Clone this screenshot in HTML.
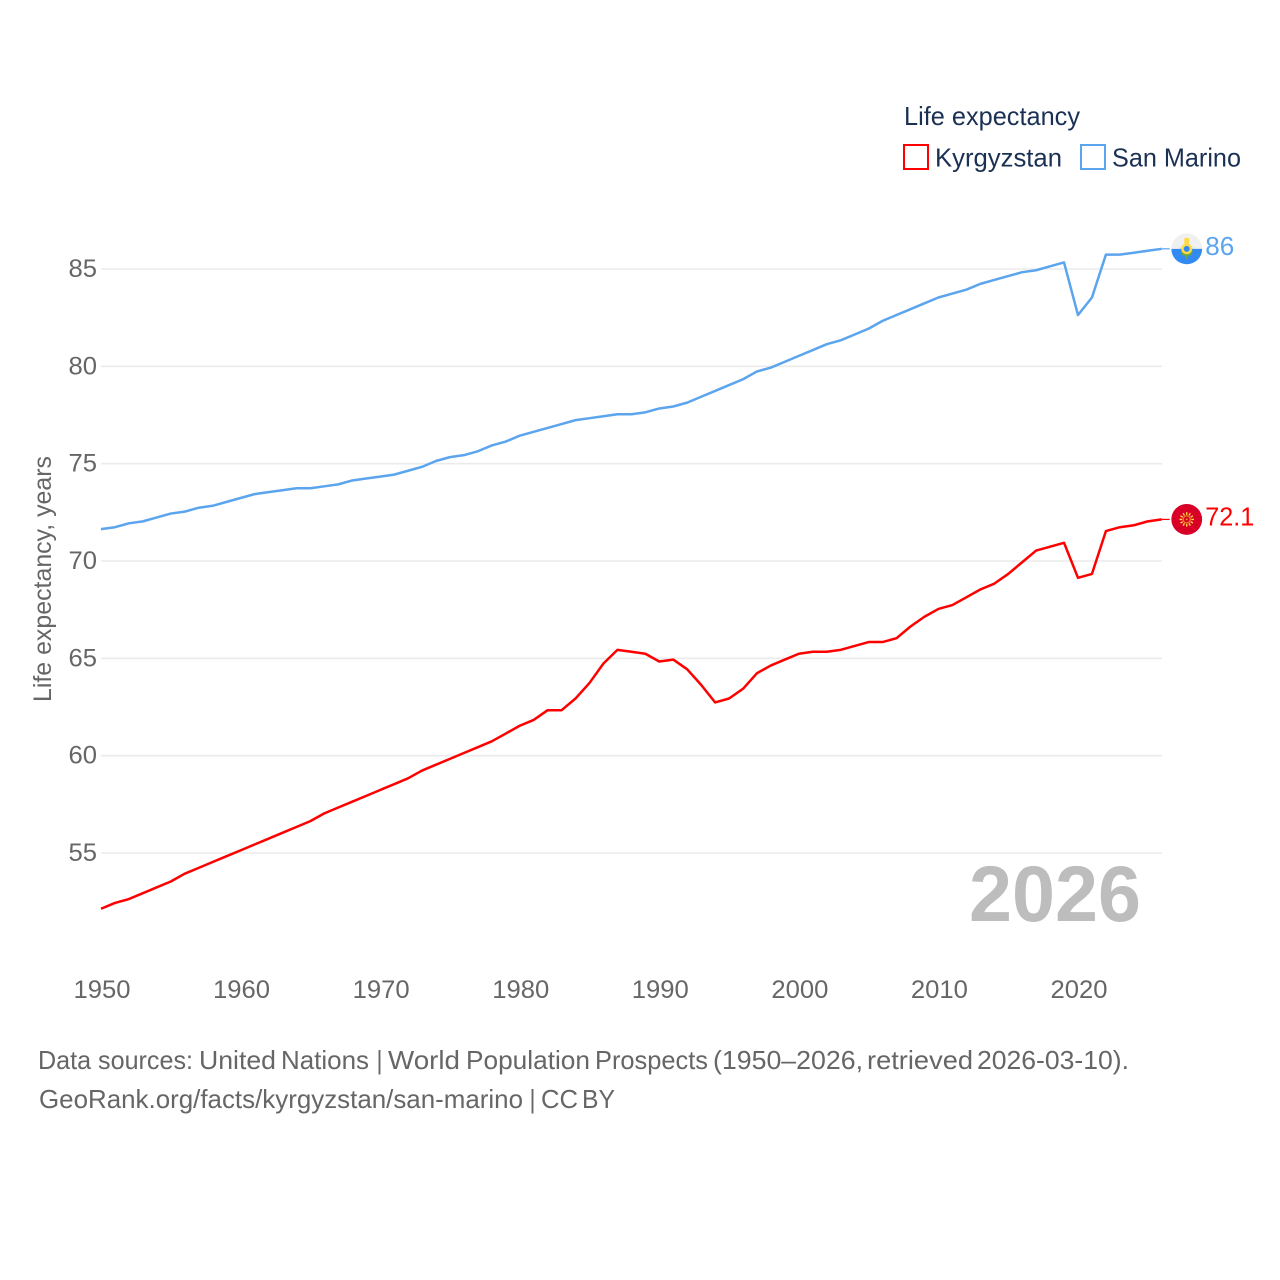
<!DOCTYPE html>
<html lang="en">
<head>
<meta charset="utf-8">
<title>Life expectancy: Kyrgyzstan and San Marino</title>
<style>
html,body{margin:0;padding:0;background:#fff;}
svg{display:block;}
text{font-family:"Liberation Sans",sans-serif;}
</style>
</head>
<body>
<svg id="chart" width="1280" height="1280" viewBox="0 0 1280 1280" xmlns="http://www.w3.org/2000/svg">
  <rect width="1280" height="1280" fill="#ffffff"/>
  <g id="grid"></g>
  <g id="yticks"></g>
  <g id="xticks"></g>
  <text transform="translate(51,702) rotate(-90)" font-size="25" fill="#666666" textLength="246" lengthAdjust="spacingAndGlyphs">Life expectancy, years</text>
  <text x="969" y="921" font-size="79" font-weight="700" fill="#bdbdbd" textLength="172" lengthAdjust="spacingAndGlyphs">2026</text>
  <g id="series"></g>

  <g>
    <text x="904" y="125" font-size="26" fill="#1b3154" textLength="176" lengthAdjust="spacingAndGlyphs">Life expectancy</text>
    <g>
      <rect x="904" y="145" width="24" height="24" fill="#ffffff" stroke="#ff0000" stroke-width="2"/>
      <text x="935" y="166.5" font-size="26" fill="#1b3154" textLength="127" lengthAdjust="spacingAndGlyphs">Kyrgyzstan</text>
    </g>
    <g>
      <rect x="1081" y="145" width="24" height="24" fill="#ffffff" stroke="#5ba4ee" stroke-width="2"/>
      <text x="1112" y="166.5" font-size="26" fill="#1b3154" textLength="129" lengthAdjust="spacingAndGlyphs">San Marino</text>
    </g>
  </g>

  <g id="flag-sm"></g>
  <g id="flag-kg"></g>

  <g font-size="26" fill="#666666">
    <text y="1069" lengthAdjust="spacingAndGlyphs"><tspan x="38" textLength="155" lengthAdjust="spacingAndGlyphs">Data sources:</tspan> <tspan x="199" textLength="77" lengthAdjust="spacingAndGlyphs">United</tspan> <tspan x="281" textLength="88" lengthAdjust="spacingAndGlyphs">Nations</tspan> <tspan x="376.5" textLength="6" lengthAdjust="spacingAndGlyphs">|</tspan> <tspan x="388" textLength="72" lengthAdjust="spacingAndGlyphs">World</tspan> <tspan x="466" textLength="124" lengthAdjust="spacingAndGlyphs">Population</tspan> <tspan x="595" textLength="113" lengthAdjust="spacingAndGlyphs">Prospects</tspan> <tspan x="713" textLength="150" lengthAdjust="spacingAndGlyphs">(1950–2026,</tspan> <tspan x="867" textLength="106" lengthAdjust="spacingAndGlyphs">retrieved</tspan> <tspan x="977" textLength="152" lengthAdjust="spacingAndGlyphs">2026-03-10).</tspan></text>
    <text y="1108"><tspan x="39" textLength="484" lengthAdjust="spacingAndGlyphs">GeoRank.org/facts/kyrgyzstan/san-marino</tspan> <tspan x="529.5" textLength="6" lengthAdjust="spacingAndGlyphs">|</tspan> <tspan x="541" textLength="37" lengthAdjust="spacingAndGlyphs">CC</tspan> <tspan x="582" textLength="33" lengthAdjust="spacingAndGlyphs">BY</tspan></text>
  </g>
</svg>
<script>
const startYear = 1950;
const xTickLabels = ["1950","1960","1970","1980","1990","2000","2010","2020"];
const yTickLabels = ["55","60","65","70","75","80","85"];
const kyrgyzstanValues = [52.1,52.4,52.6,52.9,53.2,53.5,53.9,54.2,54.5,54.8,55.1,55.4,55.7,56.0,56.3,56.6,57.0,57.3,57.6,57.9,58.2,58.5,58.8,59.2,59.5,59.8,60.1,60.4,60.7,61.1,61.5,61.8,62.3,62.3,62.9,63.7,64.7,65.4,65.3,65.2,64.8,64.9,64.4,63.6,62.7,62.9,63.4,64.2,64.6,64.9,65.2,65.3,65.3,65.4,65.6,65.8,65.8,66.0,66.6,67.1,67.5,67.7,68.1,68.5,68.8,69.3,69.9,70.5,70.7,70.9,69.1,69.3,71.5,71.7,71.8,72.0,72.1];
const sanMarinoValues = [71.6,71.7,71.9,72.0,72.2,72.4,72.5,72.7,72.8,73.0,73.2,73.4,73.5,73.6,73.7,73.7,73.8,73.9,74.1,74.2,74.3,74.4,74.6,74.8,75.1,75.3,75.4,75.6,75.9,76.1,76.4,76.6,76.8,77.0,77.2,77.3,77.4,77.5,77.5,77.6,77.8,77.9,78.1,78.4,78.7,79.0,79.3,79.7,79.9,80.2,80.5,80.8,81.1,81.3,81.6,81.9,82.3,82.6,82.9,83.2,83.5,83.7,83.9,84.2,84.4,84.6,84.8,84.9,85.1,85.3,82.6,83.5,85.7,85.7,85.8,85.9,86.0];
const kyrgyzstanEndLabel = "72.1";
const sanMarinoEndLabel = "86";

const NS = "http://www.w3.org/2000/svg";
function xScale(year){ return 101 + (year - 1950) * 13.957; }
function yScale(value){ return 853 - (value - 55) * 19.467; }
function make(tag, attrs, parent, txt){
  const el = document.createElementNS(NS, tag);
  for (const k in attrs) el.setAttribute(k, attrs[k]);
  if (txt !== undefined) el.textContent = txt;
  parent.appendChild(el);
  return el;
}

const gridG = document.getElementById("grid");
const yG = document.getElementById("yticks");
yTickLabels.forEach(function(label){
  const y = yScale(Number(label));
  const line = make("line", {x1:101, x2:1162, y1:y, y2:y, stroke:"#ebebeb", "stroke-width":1.6}, gridG);
  
  
  const t = make("text", {x:97, y:y+8, "font-size":25, fill:"#666666", "text-anchor":"end", textLength:28.5, lengthAdjust:"spacingAndGlyphs"}, yG, label);
  
  
});

const xG = document.getElementById("xticks");
xTickLabels.forEach(function(label){
  const x = xScale(Number(label));
  const t = make("text", {x:x-27.5, y:998, "font-size":25, fill:"#666666", textLength:57, lengthAdjust:"spacingAndGlyphs"}, xG, label);
  
  
});

function drawSeries(values, color, lineName, labelText, labelName, connectorName, labelWidth){
  const g = document.getElementById("series");
  const lift = 0.7;
  const pts = values.map(function(v, i){ return xScale(startYear + i).toFixed(2) + "," + (yScale(v) - lift).toFixed(2); }).join(" ");
  const line = make("polyline", {points:pts, fill:"none", stroke:color, "stroke-width":2.5, "stroke-linejoin":"round"}, g);
  
  
  const lastIndex = values.length - 1;
  const lastX = xScale(startYear + lastIndex);
  const lastY = yScale(values[lastIndex]) - lift;
  const conn = make("line", {x1:lastX, x2:lastX+8, y1:lastY, y2:lastY, stroke:color, "stroke-width":1.2}, g);
  
  
  const t = make("text", {x:lastX+43.5, y:lastY+6, "font-size":25.5, fill:color, textLength:labelWidth, lengthAdjust:"spacingAndGlyphs"}, g, labelText);
  
  
  return {x:lastX+25, y:lastY};
}

const smEnd = drawSeries(sanMarinoValues, "#5ba4ee", "san-marino-line", sanMarinoEndLabel, "san-marino-end-value", "san-marino-connector", 29);
const kgEnd = drawSeries(kyrgyzstanValues, "#ff0000", "kyrgyzstan-line", kyrgyzstanEndLabel, "kyrgyzstan-end-value", "kyrgyzstan-connector", 49);

/* San Marino flag icon */
const sm = document.getElementById("flag-sm");
sm.setAttribute("transform", "translate(" + smEnd.x + "," + smEnd.y + ")");
sm.innerHTML =
  '<circle r="15.4" fill="#f0f0f0"/>' +
  '<path d="M-15.4 0A15.4 15.4 0 0 0 15.4 0Z" fill="#338af3"/>' +
  '<path d="M-7 -3A7 7.5 0 0 0 7 -3L5 6 1.5 7 0 11 -1.5 7 -5 6Z" fill="#6da544"/>' +
  '<rect x="-2.5" y="-11" width="5" height="6" rx="1.5" fill="#ffda44"/>' +
  '<circle cy="0" r="5.4" fill="#ffda44"/>' +
  '<circle cy="0" r="3" fill="#338af3"/>';

/* Kyrgyzstan flag icon */
const kg = document.getElementById("flag-kg");
kg.setAttribute("transform", "translate(" + kgEnd.x + "," + kgEnd.y + ")");
let rays = "";
for (let a = 0; a < 360; a += 30) {
  rays += '<rect x="-0.7" y="-7.2" width="1.4" height="2.6" fill="#ffda44" transform="rotate(' + a + ')"/>';
}
kg.innerHTML =
  '<circle r="15.4" fill="#d80027"/>' + rays +
  '<circle r="3.6" fill="none" stroke="#ea8a20" stroke-width="1.2"/>' +
  '<circle r="1" fill="#ea8a20"/>';
</script>
</body>
</html>
